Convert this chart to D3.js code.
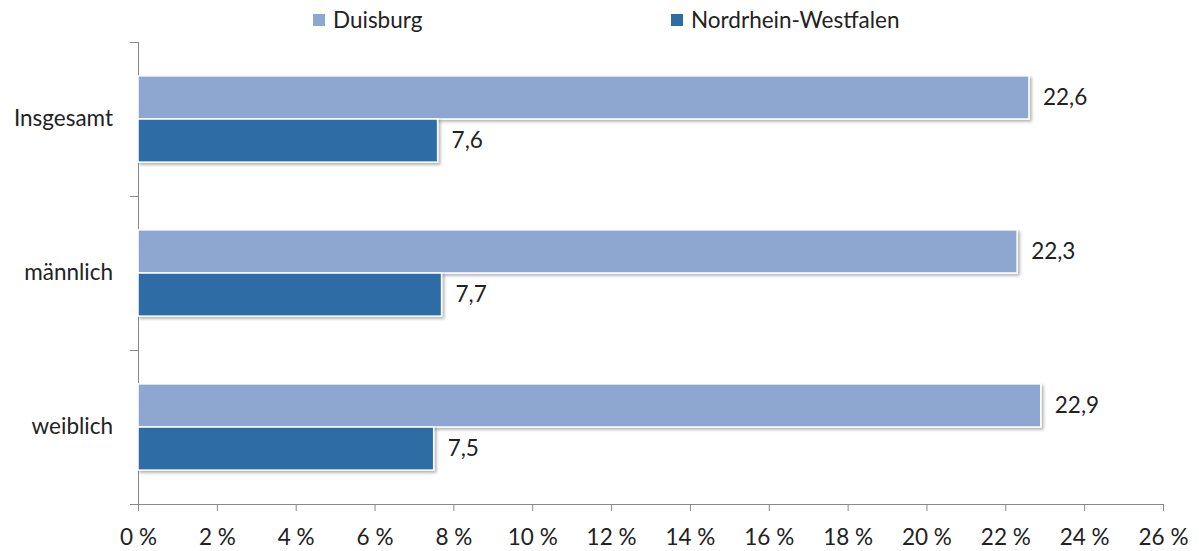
<!DOCTYPE html>
<html>
<head>
<meta charset="utf-8">
<script src="https://cdn.jsdelivr.net/npm/d3@7"></script>
<style>
  body { margin: 0; background: #fff; }
  text { font-family: Lato, "Open Sans", sans-serif; fill: #222; }
</style>
</head>
<body>
<script>
const categories = ["Insgesamt", "männlich", "weiblich"];
const seriesNames = ["Duisburg", "Nordrhein-Westfalen"];
const duisburg = [22.6, 22.3, 22.9];
const nrw = [7.6, 7.7, 7.5];
const xTicks = [0, 2, 4, 6, 8, 10, 12, 14, 16, 18, 20, 22, 24, 26];
const colors = ["#8EA7D0", "#2E6CA5"];

const svgWidth = 1199, svgHeight = 551;
const fontSize = "22.5px";
const svg = d3.select("body").append("svg")
    .attr("width", svgWidth)
    .attr("height", svgHeight);

const defs = svg.append("defs");
const shadow = defs.append("filter").attr("id", "shadow")
    .attr("x", "-5%").attr("y", "-20%").attr("width", "110%").attr("height", "150%");
shadow.append("feDropShadow")
    .attr("dx", 2).attr("dy", 2).attr("stdDeviation", 1.5)
    .attr("flood-color", "#000").attr("flood-opacity", 0.3);

const x = d3.scaleLinear().domain([0, 26]).range([138, 1163]);
const y = d3.scaleBand().domain(categories).range([42, 504]);
const inner = d3.scaleBand().domain(seriesNames)
    .range([y.bandwidth() * 0.22, y.bandwidth() * 0.78]);

const table = categories.map((c, i) => ({cat: c, values: [duisburg[i], nrw[i]]}));

// axes
const xAxis = svg.append("g")
    .attr("transform", `translate(0,504)`)
    .call(d3.axisBottom(x).tickValues(xTicks).tickSize(7).tickSizeOuter(0)
        .tickFormat(d => d + " %"));
xAxis.select(".domain").attr("d", "M130,0.5H1163").attr("stroke", "#888");
xAxis.selectAll(".tick line").attr("stroke", "#888");
xAxis.selectAll(".tick text").attr("dy", 0).attr("y", 41)
    .style("font-size", fontSize).style("font-family", "Lato, sans-serif").attr("fill", "#222");

const yAxis = svg.append("g").attr("transform", "translate(138,0)");
yAxis.append("line").attr("x1", 0.5).attr("x2", 0.5).attr("y1", 42).attr("y2", 504).attr("stroke", "#888");
yAxis.selectAll("line.tk").data([42, y("männlich"), y("weiblich")]).enter()
    .append("line").attr("class", "tk")
    .attr("x1", -8).attr("x2", 0).attr("y1", d => d + 0.5).attr("y2", d => d + 0.5)
    .attr("stroke", "#888");
yAxis.selectAll("text").data(categories).enter().append("text")
    .attr("x", -25).attr("y", d => y(d) + y.bandwidth() / 2 - 1)
    .attr("dy", "0.35em").attr("text-anchor", "end")
    .style("font-size", fontSize).text(d => d);

// bars
const groups = svg.selectAll("g.cat").data(table).enter().append("g")
    .attr("class", "cat")
    .attr("transform", d => `translate(0,${y(d.cat)})`);

groups.selectAll("rect").data(d => d.values.map((v, i) => ({v, s: seriesNames[i], i})))
    .enter().append("rect")
    .attr("x", x(0))
    .attr("y", d => inner(d.s))
    .attr("width", d => x(d.v) - x(0))
    .attr("height", inner.bandwidth())
    .attr("fill", d => colors[d.i])
    .attr("stroke", "#fff").attr("stroke-width", 1.5)
    .attr("filter", "url(#shadow)");

groups.selectAll("text.val").data(d => d.values.map((v, i) => ({v, s: seriesNames[i]})))
    .enter().append("text").attr("class", "val")
    .attr("x", d => x(d.v) + 14)
    .attr("y", d => inner(d.s) + inner.bandwidth() / 2)
    .attr("dy", "0.35em")
    .style("font-size", fontSize)
    .text(d => d3.format(".1f")(d.v).replace(".", ","));

// legend
const legendX = [313, 671];
const legend = svg.selectAll("g.leg").data(seriesNames).enter().append("g")
    .attr("class", "leg")
    .attr("transform", (d, i) => `translate(${legendX[i]},20)`);
legend.append("rect").attr("x", 0).attr("y", -6).attr("width", 12).attr("height", 12)
    .attr("fill", (d, i) => colors[i]);
legend.append("text").attr("x", 20).attr("dy", "0.35em")
    .style("font-size", fontSize).text(d => d);
</script>
</body>
</html>
